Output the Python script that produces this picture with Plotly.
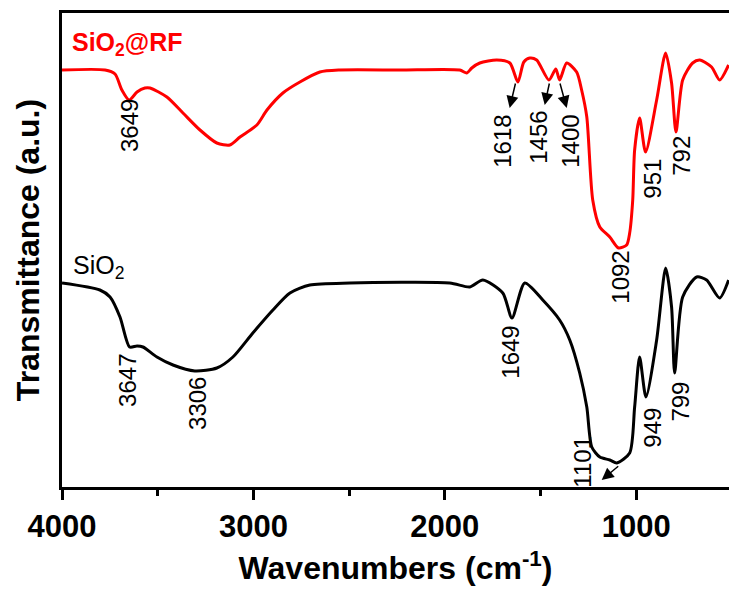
import plotly.graph_objects as go

# ---- data: SiO2@RF (red) ----
rf_wn = [4000, 3775, 3723, 3687, 3649, 3608, 3567, 3540, 3452, 3368, 3279, 3191, 3123, 3070,
         2982, 2929, 2846, 2757, 2653, 2548, 2235, 1922, 1885, 1859, 1817, 1728, 1660, 1618,
         1587, 1556, 1520, 1456, 1420, 1400, 1363, 1311, 1285, 1258, 1227, 1190, 1138, 1092,
         1050, 1034, 1018, 1008, 982, 951, 893, 846, 815, 792, 757, 705, 668, 606, 564, 517]
rf_t = [417, 417, 413, 397, 387, 395, 399, 399, 390, 374, 357, 344, 342, 350,
        362, 377, 394, 405, 415, 417, 417, 417, 414, 419, 424, 427, 424, 405,
        425, 429, 427, 407, 418, 407, 424, 415, 397, 370, 287, 260, 250, 239,
        242, 254, 287, 337, 369, 335, 387, 434, 404, 355, 407, 424, 427, 420, 407, 422]

# ---- data: SiO2 (black) ----
si_wn = [4000, 3802, 3749, 3697, 3647, 3608, 3577, 3504, 3420, 3306, 3191, 3107, 3003, 2898,
         2809, 2705, 2496, 1974, 1869, 1801, 1697, 1649, 1582, 1488, 1400, 1347, 1295, 1258,
         1232, 1190, 1138, 1101, 1034, 1008, 982, 949, 893, 846, 815, 799, 757, 684, 632, 564, 517]
si_t = [204, 197, 190, 170, 140, 141, 140, 130, 122, 116, 119, 130, 154, 177,
        194, 202, 204, 204, 200, 207, 194, 169, 204, 187, 167, 147, 114, 80,
        40, 30, 27, 24, 34, 80, 130, 90, 147, 219, 180, 114, 190, 210, 207, 189, 207]

# ---- peak labels ----
rf_labels = ["3649", "1618", "1456", "1400", "1092", "951", "792"]
rf_lab_x = [3650, 1702, 1514, 1347, 1086, 919, 767]
rf_lab_y = [362, 346, 350, 346, 210, 308, 331]

si_labels = ["3647", "3306", "1649", "1101", "949", "799"]
si_lab_x = [3661, 3295, 1661, 1285, 919, 773]
si_lab_y = [107, 84, 135, 25, 59, 85]

# arrows: (tail_x, tail_y, head_x, head_y)
arrows = [(1629, 405, 1661, 379), (1452, 405, 1478, 382), (1400, 405, 1363, 379), (1086, 22, 1180, 7)]

FONT = "Liberation Sans"

fig = go.Figure()
fig.add_trace(go.Scatter(x=rf_wn, y=rf_t, mode="lines",
                         line=dict(color="#ff0000", width=3, shape="spline", smoothing=0.7),
                         showlegend=False))
fig.add_trace(go.Scatter(x=si_wn, y=si_t, mode="lines",
                         line=dict(color="#000000", width=3, shape="spline", smoothing=0.7),
                         showlegend=False))

ann = []
for t, x, y in zip(rf_labels, rf_lab_x, rf_lab_y):
    ann.append(dict(x=x, y=y, xref="x", yref="y", text=t, showarrow=False, textangle=-90,
                    font=dict(family=FONT, size=24, color="black")))
for t, x, y in zip(si_labels, si_lab_x, si_lab_y):
    ann.append(dict(x=x, y=y, xref="x", yref="y", text=t, showarrow=False, textangle=-90,
                    font=dict(family=FONT, size=24, color="black")))
for tx, ty, hx, hy in arrows:
    ann.append(dict(x=hx, y=hy, ax=tx, ay=ty, xref="x", yref="y", axref="x", ayref="y",
                    text="", showarrow=True, arrowhead=2, arrowsize=1.6, arrowwidth=1.5,
                    arrowcolor="black"))
ann.append(dict(x=3960, y=443, xref="x", yref="y", text="<b>SiO<sub>2</sub>@RF</b>",
                showarrow=False, xanchor="left", yanchor="middle",
                font=dict(family=FONT, size=25, color="#ff0000")))
ann.append(dict(x=3955, y=220, xref="x", yref="y", text="SiO<sub>2</sub>",
                showarrow=False, xanchor="left", yanchor="middle",
                font=dict(family=FONT, size=25, color="black")))

fig.update_layout(
    width=729, height=597,
    margin=dict(l=62, r=0, t=13, b=110),
    paper_bgcolor="white", plot_bgcolor="white",
    annotations=ann,
    xaxis=dict(range=[4000, 515], showgrid=False, zeroline=False,
               showline=True, linewidth=3, linecolor="black", mirror=True,
               ticks="outside", ticklen=10, tickwidth=3, tickcolor="black",
               tick0=0, dtick=1000,
               minor=dict(dtick=500, ticks="outside", ticklen=6, tickwidth=3, tickcolor="black"),
               tickfont=dict(family=FONT, size=31, color="black", weight="bold"),
               title=dict(text="Wavenumbers (cm<sup>-1</sup>)", standoff=14,
                          font=dict(family=FONT, size=32, color="black", weight="bold"))),
    yaxis=dict(range=[0, 474], showgrid=False, zeroline=False,
               showline=True, linewidth=3, linecolor="black", mirror=False,
               ticks="", showticklabels=False,
               title=dict(text="Transmittance (a.u.)", standoff=10,
                          font=dict(family=FONT, size=32, color="black", weight="bold"))),
)

fig.write_html("out.html")
